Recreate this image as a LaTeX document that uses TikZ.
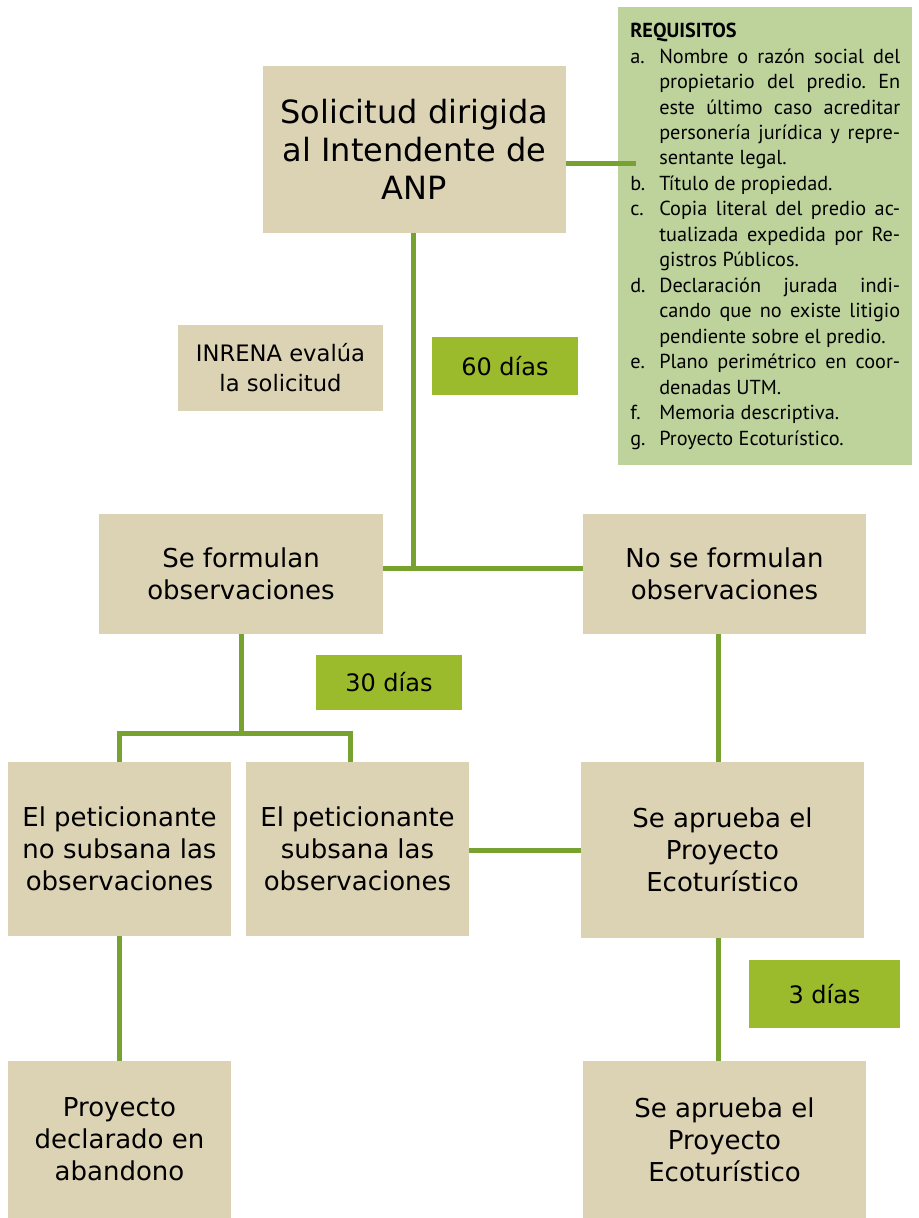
\documentclass[tikz,border=0pt]{standalone}
\usepackage{fontspec}
\setmainfont{DejaVu Sans}
\newfontfamily\reqfont{PT Sans}
\usetikzlibrary{positioning}

\definecolor{cajafondo}{HTML}{DCD2B4}
\definecolor{reqfondo}{HTML}{BDD39B}
\definecolor{diasfondo}{HTML}{9CBB2C}
\definecolor{linea}{HTML}{78A22F}
\newlength{\pxu}\setlength{\pxu}{0.75pt}
\newcommand{\reqitem}[2]{\par\noindent\hangindent=21.75pt\hangafter=1\makebox[21.75pt][l]{#1}#2}

\begin{document}
\begin{tikzpicture}[x=0.75pt, y=-0.75pt,
  caja/.style = {fill=cajafondo, align=center, inner sep=0pt,
                 font=\fontsize{19.5}{24}\selectfont},
  grande/.style = {font=\fontsize{24}{28.5}\selectfont},
  dias/.style = {fill=diasfondo, align=center, inner sep=0pt,
                 font=\fontsize{18}{22}\selectfont},
  conector/.style = {draw=linea, line width=3.75pt}]
  \useasboundingbox (0,0) rectangle (919,1218);

  % requisitos
  \node[fill=reqfondo, anchor=north west, text width=270*\pxu,
    inner xsep=12*\pxu, inner ysep=0pt, minimum height=458*\pxu,
    align=justify, font=\reqfont\frenchspacing\fontsize{15.2}{19.1}\selectfont]
    (req) at (618,7) {%
    \textbf{REQUISITOS}
    \reqitem{a.}{Nombre o razón social del\linebreak propietario del predio. En\linebreak
      este último caso acreditar\linebreak personería jurídica y repre-\linebreak sentante legal.}
    \reqitem{b.}{Título de propiedad.}
    \reqitem{c.}{Copia literal del predio ac-\linebreak tualizada expedida por Re-\linebreak gistros Públicos.}
    \reqitem{d.}{Declaración jurada indi-\linebreak cando que no existe litigio\linebreak pendiente sobre el predio.}
    \reqitem{e.}{Plano perimétrico en coor-\linebreak denadas UTM.}
    \reqitem{f.}{Memoria descriptiva.}
    \reqitem{g.}{Proyecto Ecoturístico.}};

  % cajas
  \node[caja, grande, minimum width=303*\pxu, minimum height=167*\pxu]
    (sol) at (414.5,149.5) {Solicitud dirigida\\al Intendente de\\ANP};
  \node[caja, minimum width=205*\pxu, minimum height=86*\pxu,
    font=\fontsize{17}{22.5}\selectfont]
    (evalua) at (280.5,368) {INRENA evalúa\\la solicitud};
  \node[caja, minimum width=284*\pxu, minimum height=120*\pxu]
    (formula) at (241,574) {Se formulan\\observaciones};
  \node[caja, minimum width=283*\pxu, minimum height=120*\pxu]
    (noformula) at (724.5,574) {No se formulan\\observaciones};
  \node[caja, minimum width=223*\pxu, minimum height=174*\pxu]
    (nosub) at (119.5,849) {El peticionante\\no subsana las\\observaciones};
  \node[caja, minimum width=223*\pxu, minimum height=174*\pxu]
    (sub) at (357.5,849) {El peticionante\\subsana las\\observaciones};
  \node[caja, minimum width=283*\pxu, minimum height=176*\pxu]
    (aprueba) at (722.5,850) {Se aprueba el\\Proyecto\\Ecoturístico};
  \node[caja, minimum width=223*\pxu, minimum height=157*\pxu]
    (abandono) at (119.5,1139.5) {Proyecto\\declarado en\\abandono};
  \node[caja, minimum width=283*\pxu, minimum height=157*\pxu]
    (aprueba2) at (724.5,1139.5) {Se aprueba el\\Proyecto\\Ecoturístico};

  % plazos
  \node[dias, minimum width=146*\pxu, minimum height=58*\pxu] (d60) at (505,366) {60 días};
  \node[dias, minimum width=146*\pxu, minimum height=55*\pxu] (d30) at (389,682.5) {30 días};
  \node[dias, minimum width=151*\pxu, minimum height=68*\pxu] (d3) at (824.5,994) {3 días};

  % conectores
  \coordinate (reqpunta) at (636,163);
  \coordinate (cruce) at (413,568);
  \coordinate (ramader) at (350,733);
  \draw[conector] (reqpunta -| sol.east) -- (reqpunta);
  \draw[conector] (sol.south -| cruce) -- (cruce);
  \draw[conector] (formula.east |- cruce) -- (noformula.west |- cruce);
  \draw[conector] (formula.south) -- (formula.south |- ramader);
  \draw[conector] (nosub.north) |- (ramader) -- (ramader |- sub.north);
  \draw[conector] (noformula.south -| 718,0) -- (aprueba.north -| 718,0);
  \draw[conector] (sub.east |- aprueba.west) -- (aprueba.west);
  \draw[conector] (aprueba.south -| 718,0) -- (aprueba2.north -| 718,0);
  \draw[conector] (nosub.south) -- (abandono.north);
\end{tikzpicture}
\end{document}
